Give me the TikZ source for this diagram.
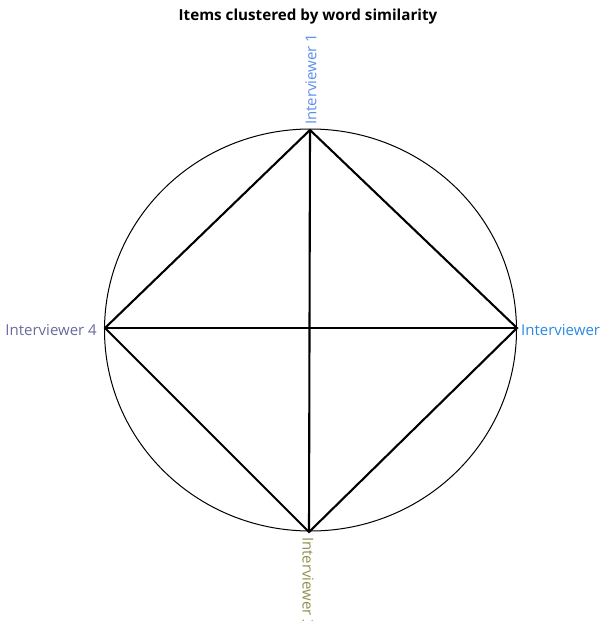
\documentclass[tikz,border=0pt]{standalone}
\usepackage{fontspec}
\setmainfont{Open Sans}
\definecolor{ivone}{HTML}{5B8DEF}
\definecolor{ivtwo}{HTML}{2A88E6}
\definecolor{ivthree}{HTML}{8F8F4F}
\definecolor{ivfour}{HTML}{6A6A9E}
\begin{document}
\begin{tikzpicture}[x=1pt,y=-1pt,
  edge/.style={line width=2.1pt,black,line join=miter},
  rim/.style={line width=1pt,black},
  lab/.style={inner sep=0pt,font=\fontsize{15}{17}\selectfont},
  ttl/.style={inner sep=0pt,font=\bfseries\fontsize{15.2}{18}\selectfont}]
\useasboundingbox (0,0) rectangle (601,621);
\clip (0,0) rectangle (601,621);
\coordinate (c) at (310.5,330);
\coordinate (t) at (310,130);
\coordinate (b) at (309,532);
\coordinate (l) at (105,328);
\coordinate (r) at (517,328);
\draw[rim] (c) ellipse [x radius=206, y radius=201];
\draw[edge] (t) -- (r) -- (b) -- (l) -- cycle;
\draw[edge] (t) -- (b);
\draw[edge] (l) -- (r);
\node[ttl] (title) at (308,17) {Items clustered by word similarity};
\node[lab,text=ivone,rotate=90,anchor=west] (n1) at (311,125) {Interviewer 1};
\node[lab,text=ivtwo,anchor=west] (n2) at (521,330) {Interviewer 2};
\node[lab,text=ivthree,rotate=-90,anchor=west] (n3) at (308,537) {Interviewer 3};
\node[lab,text=ivfour,anchor=east] (n4) at (97,330) {Interviewer 4};
\end{tikzpicture}
\end{document}
